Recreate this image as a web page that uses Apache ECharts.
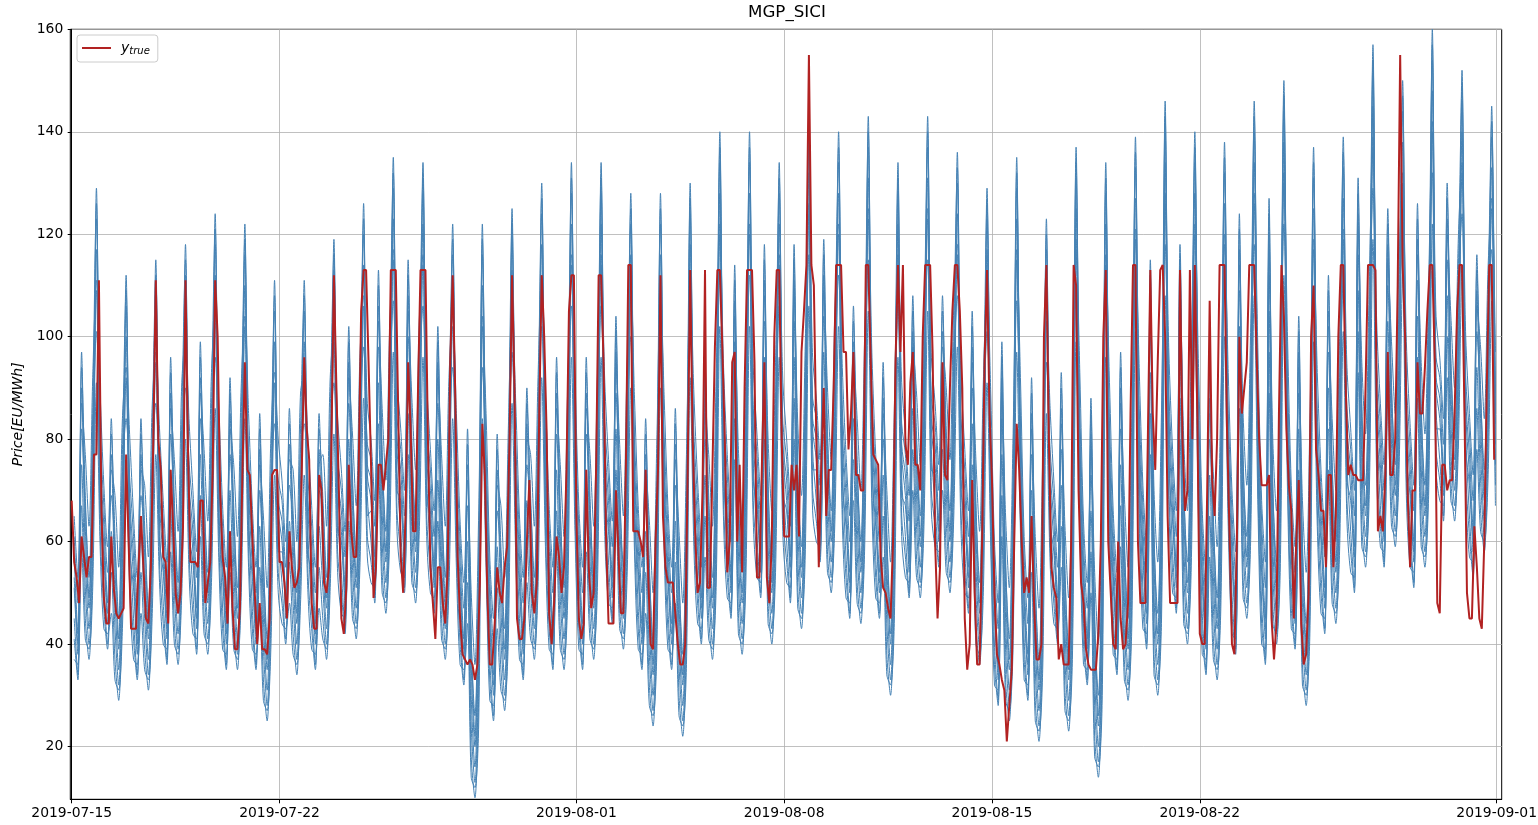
<!DOCTYPE html>
<html>
<head>
<meta charset="utf-8">
<script src="https://cdn.jsdelivr.net/npm/echarts@6.0.0/dist/echarts.min.js"></script>
<style>html,body{margin:0;padding:0;background:#fff}#c{width:1538px;height:825px}</style>
</head>
<body>
<div id="c"></div>
<script>
// x axis: days since 2019-07-15 00:00
const xTickDays = [0, 7, 17, 24, 31, 38, 48];
const xTickLabels = ['2019-07-15', '2019-07-22', '2019-08-01', '2019-08-08', '2019-08-15', '2019-08-22', '2019-09-01'];
const yTicks = [20, 40, 60, 80, 100, 120, 140, 160];

// y_true: one row per day, values at hours 0,2,4,...,22
const redStartHour = 0, redStepHour = 2;
const yTrue = [
[68,56,53,48,61,57,53,57,57,77,77,111],
[67,49,44,44,61,51,46,45,46,47,77,60],
[43,43,43,55,65,55,45,44,55,80,111,80],
[74,57,56,44,74,63,50,46,50,63,111,78],
[56,56,56,55,68,68,48,52,56,74,111,100],
[70,57,53,44,62,47,39,39,47,73,95,74],
[73,61,50,40,48,39,39,38,45,73,74,74],
[56,56,52,45,62,55,51,52,55,74,96,82],
[76,48,43,43,73,70,52,50,55,80,112,90],
[70,45,42,51,75,62,57,57,74,105,113,113],
[95,75,49,55,75,75,70,75,80,113,113,113],
[85,57,50,66,95,82,62,62,90,113,113,113],
[80,55,48,41,55,55,48,44,55,95,112,90],
[57,45,38,37,36,37,36,33,36,52,83,73],
[50,36,36,44,55,50,48,55,59,80,112,90],
[45,41,41,45,60,72,50,46,52,85,112,100],
[81,46,40,48,61,57,50,55,74,105,112,112],
[65,45,41,44,74,55,47,50,75,112,112,95],
[61,44,44,44,70,58,46,46,74,114,114,62],
[62,62,60,57,74,54,40,39,60,74,112,65],
[55,52,52,52,46,40,36,36,40,74,113,80],
[62,50,52,70,113,51,51,74,98,113,113,98],
[80,54,60,95,97,60,75,54,90,113,113,113],
[95,53,53,75,95,53,48,60,100,113,113,80],
[61,61,61,75,70,75,61,97,105,114,155,114],
[110,80,55,75,90,65,74,74,90,114,114,114],
[97,97,78,85,97,73,73,70,70,114,114,95],
[77,76,75,57,51,50,47,45,60,95,114,97],
[114,79,75,91,97,75,75,70,100,114,114,114],
[97,60,45,55,95,73,72,90,105,114,114,105],
[90,45,35,40,72,50,36,36,60,95,113,85],
[72,50,38,36,33,31,21,28,35,60,83,74],
[60,50,53,50,65,48,37,37,40,100,114,80],
[55,51,49,37,40,36,36,36,60,114,110,70],
[52,48,39,36,35,35,35,42,60,100,113,60],
[50,40,39,60,45,39,40,48,85,114,114,60],
[48,48,48,80,113,85,74,95,113,114,100,65],
[48,48,48,48,113,80,66,70,113,80,114,85],
[42,40,40,70,107,72,65,80,114,114,114,82],
[62,40,38,60,100,85,90,95,114,114,114,96],
[80,71,71,71,73,45,37,44,85,114,104,82],
[71,66,45,60,72,44,36,38,50,100,110,78],
[73,66,66,55,73,73,55,65,100,114,114,90],
[73,75,73,73,72,72,72,90,114,114,114,113],
[62,65,62,73,97,73,73,80,110,155,114,100],
[70,55,70,70,95,85,85,94,105,114,114,95],
[48,46,75,75,70,72,72,85,105,114,114,85],
[50,45,45,63,55,45,43,60,90,114,114,76]
];

// forecast samples: one row per day, values at hours 2,5,8,11,14,17,20,23
const blueStartHour = 2, blueStepHour = 3;
const predA = [
[57,42,97,63,47,75,123,77],[63,48,84,55,39,67,106,68],[57,42,84,57,41,69,109,70],[60,45,96,62,46,74,112,71],
[62,47,99,64,48,76,118,74],[59,44,92,61,45,73,116,73],[59,44,85,51,35,63,105,68],[64,49,86,60,44,72,105,68],
[59,44,85,63,47,75,113,72],[66,51,102,67,51,79,120,75],[72,57,113,72,56,84,129,80],[74,59,115,74,58,86,128,79],
[70,55,102,63,47,75,116,73],[56,41,82,36,20,48,116,73],[49,34,81,53,37,65,119,75],[57,42,90,63,47,75,124,77],
[59,44,96,61,45,73,128,79],[59,44,96,63,47,75,128,79],[68,53,104,65,49,77,122,76],[59,44,84,50,34,62,122,76],
[59,44,86,48,32,60,124,77],[64,49,95,63,47,75,134,82],[69,54,114,64,48,76,134,82],[73,58,118,66,50,78,128,79],
[72,57,118,69,53,81,138,84],[80,65,119,76,60,88,134,82],[69,54,106,70,54,82,137,84],[69,54,95,56,40,68,128,79],
[73,58,108,75,59,87,137,84],[79,64,108,76,60,88,130,80],[70,55,105,62,46,74,123,77],[52,37,99,51,35,63,129,80],
[53,38,92,47,31,59,117,74],[64,49,93,49,33,61,131,81],[56,41,88,40,24,52,128,79],[58,43,97,55,39,67,133,82],
[63,48,115,56,40,68,140,85],[70,55,118,66,50,78,134,82],[58,43,95,59,43,71,132,81],[62,47,124,71,55,83,140,85],
[60,45,127,66,50,78,144,87],[63,48,104,54,38,66,131,81],[66,51,112,70,54,82,133,82],[74,59,131,81,65,93,151,91],
[79,64,125,85,69,97,144,87],[75,60,126,81,65,93,154,92],[88,73,130,90,74,102,146,88],[77,62,116,84,68,96,139,85]
];
const predB = [
[45,34,75,51,40,63,129,71],[51,40,62,43,32,55,112,62],[45,34,62,45,34,57,115,64],[48,37,74,50,39,62,118,65],
[50,39,77,52,41,64,124,68],[47,36,70,49,38,61,122,67],[47,36,63,39,28,51,111,62],[52,41,64,48,37,60,111,62],
[47,36,63,51,40,63,119,66],[54,43,80,55,44,67,126,69],[60,49,91,60,49,72,135,74],[62,51,93,62,51,74,134,73],
[58,47,80,51,40,63,122,67],[44,33,60,24,13,36,122,67],[37,26,59,41,30,53,125,69],[45,34,68,51,40,63,130,71],
[47,36,74,49,38,61,134,73],[47,36,74,51,40,63,134,73],[56,45,82,53,42,65,128,70],[47,36,62,38,27,50,128,70],
[47,36,64,36,25,48,130,71],[52,41,73,51,40,63,140,76],[57,46,92,52,41,64,140,76],[61,50,96,54,43,66,134,73],
[60,49,96,57,46,69,144,78],[68,57,97,64,53,76,140,76],[57,46,84,58,47,70,143,78],[57,46,73,44,33,56,134,73],
[61,50,86,63,52,75,143,78],[67,56,86,64,53,76,136,74],[58,47,83,50,39,62,129,71],[40,29,77,39,28,51,135,74],
[41,30,70,35,24,47,123,68],[52,41,71,37,26,49,137,75],[44,33,66,28,17,40,134,73],[46,35,75,43,32,55,139,76],
[51,40,93,44,33,56,146,79],[58,47,96,54,43,66,140,76],[46,35,73,47,36,59,138,75],[50,39,102,59,48,71,146,79],
[48,37,105,54,43,66,150,81],[51,40,82,42,31,54,137,75],[54,43,90,58,47,70,139,76],[62,51,109,69,58,81,157,85],
[67,56,103,73,62,85,150,81],[63,52,104,69,58,81,160,86],[76,65,108,78,67,90,152,82],[65,54,94,72,61,84,145,79]
];
const predC = [
[51,38,90,57,43,69,109,67],[57,44,77,49,35,61,92,58],[51,38,77,51,37,63,95,60],[54,41,89,56,42,68,98,61],
[56,43,92,58,44,70,104,64],[53,40,85,55,41,67,102,63],[53,40,78,45,31,57,91,58],[58,45,79,54,40,66,91,58],
[53,40,78,57,43,69,99,62],[60,47,95,61,47,73,106,65],[66,53,106,66,52,78,115,70],[68,55,108,68,54,80,114,69],
[64,51,95,57,43,69,102,63],[50,37,75,30,16,42,102,63],[43,30,74,47,33,59,105,65],[51,38,83,57,43,69,110,67],
[53,40,89,55,41,67,114,69],[53,40,89,57,43,69,114,69],[62,49,97,59,45,71,108,66],[53,40,77,44,30,56,108,66],
[53,40,79,42,28,54,110,67],[58,45,88,57,43,69,120,72],[63,50,107,58,44,70,120,72],[67,54,111,60,46,72,114,69],
[66,53,111,63,49,75,124,74],[74,61,112,70,56,82,120,72],[63,50,99,64,50,76,123,74],[63,50,88,50,36,62,114,69],
[67,54,101,69,55,81,123,74],[73,60,101,70,56,82,116,70],[64,51,98,56,42,68,109,67],[46,33,92,45,31,57,115,70],
[47,34,85,41,27,53,103,64],[58,45,86,43,29,55,117,71],[50,37,81,34,20,46,114,69],[52,39,90,49,35,61,119,72],
[57,44,108,50,36,62,126,75],[64,51,111,60,46,72,120,72],[52,39,88,53,39,65,118,71],[56,43,117,65,51,77,126,75],
[54,41,120,60,46,72,130,77],[57,44,97,48,34,60,117,71],[60,47,105,64,50,76,119,72],[68,55,124,75,61,87,137,81],
[73,60,118,79,65,91,130,77],[69,56,119,75,61,87,140,82],[82,69,123,84,70,96,132,78],[71,58,109,78,64,90,125,75]
];
const predD = [
[41,33,67,45,37,57,117,63],[47,39,54,37,29,49,100,54],[41,33,54,39,31,51,103,56],[44,36,66,44,36,56,106,57],
[46,38,69,46,38,58,112,60],[43,35,62,43,35,55,110,59],[43,35,55,33,25,45,99,54],[48,40,56,42,34,54,99,54],
[43,35,55,45,37,57,107,58],[50,42,72,49,41,61,114,61],[56,48,83,54,46,66,123,66],[58,50,85,56,48,68,122,65],
[54,46,72,45,37,57,110,59],[40,32,52,18,10,30,110,59],[33,25,51,35,27,47,113,61],[41,33,60,45,37,57,118,63],
[43,35,66,43,35,55,122,65],[43,35,66,45,37,57,122,65],[52,44,74,47,39,59,116,62],[43,35,54,32,24,44,116,62],
[43,35,56,30,22,42,118,63],[48,40,65,45,37,57,128,68],[53,45,84,46,38,58,128,68],[57,49,88,48,40,60,122,65],
[56,48,88,51,43,63,132,70],[64,56,89,58,50,70,128,68],[53,45,76,52,44,64,131,70],[53,45,65,38,30,50,122,65],
[57,49,78,57,49,69,131,70],[63,55,78,58,50,70,124,66],[54,46,75,44,36,56,117,63],[36,28,69,33,25,45,123,66],
[37,29,62,29,21,41,111,60],[48,40,63,31,23,43,125,67],[40,32,58,22,14,34,122,65],[42,34,67,37,29,49,127,68],
[47,39,85,38,30,50,134,71],[54,46,88,48,40,60,128,68],[42,34,65,41,33,53,126,67],[46,38,94,53,45,65,134,71],
[44,36,97,48,40,60,138,73],[47,39,74,36,28,48,125,67],[50,42,82,52,44,64,127,68],[58,50,101,63,55,75,145,77],
[63,55,95,67,59,79,138,73],[59,51,96,63,55,75,148,78],[72,64,100,72,64,84,140,74],[61,53,86,66,58,78,133,71]
];
const predE = [
[61,48,82,67,53,81,101,81],[67,54,69,59,45,73,84,72],[61,48,69,61,47,75,87,74],[64,51,81,66,52,80,90,75],
[66,53,84,68,54,82,96,78],[63,50,77,65,51,79,94,77],[63,50,70,55,41,69,83,72],[68,55,71,64,50,78,83,72],
[63,50,70,67,53,81,91,76],[70,57,87,71,57,85,98,79],[76,63,98,76,62,90,107,84],[78,65,100,78,64,92,106,83],
[74,61,87,67,53,81,94,77],[60,47,67,40,26,54,94,77],[53,40,66,57,43,71,97,79],[61,48,75,67,53,81,102,81],
[63,50,81,65,51,79,106,83],[63,50,81,67,53,81,106,83],[72,59,89,69,55,83,100,80],[63,50,69,54,40,68,100,80],
[63,50,71,52,38,66,102,81],[68,55,80,67,53,81,112,86],[73,60,99,68,54,82,112,86],[77,64,103,70,56,84,106,83],
[76,63,103,73,59,87,116,88],[84,71,104,80,66,94,112,86],[73,60,91,74,60,88,115,88],[73,60,80,60,46,74,106,83],
[77,64,93,79,65,93,115,88],[83,70,93,80,66,94,108,84],[74,61,90,66,52,80,101,81],[56,43,84,55,41,69,107,84],
[57,44,77,51,37,65,95,78],[68,55,78,53,39,67,109,85],[60,47,73,44,30,58,106,83],[62,49,82,59,45,73,111,86],
[67,54,100,60,46,74,118,89],[74,61,103,70,56,84,112,86],[62,49,80,63,49,77,110,85],[66,53,109,75,61,89,118,89],
[64,51,112,70,56,84,122,91],[67,54,89,58,44,72,109,85],[70,57,97,74,60,88,111,86],[78,65,116,85,71,99,129,95],
[83,70,110,89,75,103,122,91],[79,66,111,85,71,99,132,96],[92,79,115,94,80,108,124,92],[81,68,101,88,74,102,117,89]
];
const predF = [
[65,53,87,77,63,92,111,89],[71,59,74,69,55,84,94,80],[65,53,74,71,57,86,97,82],[68,56,86,76,62,91,100,83],
[70,58,89,78,64,93,106,86],[67,55,82,75,61,90,104,85],[67,55,75,65,51,80,93,80],[72,60,76,74,60,89,93,80],
[67,55,75,77,63,92,101,84],[74,62,92,81,67,96,108,87],[80,68,103,86,72,101,117,92],[82,70,105,88,74,103,116,91],
[78,66,92,77,63,92,104,85],[64,52,72,50,36,65,104,85],[57,45,71,67,53,82,107,87],[65,53,80,77,63,92,112,89],
[67,55,86,75,61,90,116,91],[67,55,86,77,63,92,116,91],[76,64,94,79,65,94,110,88],[67,55,74,64,50,79,110,88],
[67,55,76,62,48,77,112,89],[72,60,85,77,63,92,122,94],[77,65,104,78,64,93,122,94],[81,69,108,80,66,95,116,91],
[80,68,108,83,69,98,126,96],[88,76,109,90,76,105,122,94],[77,65,96,84,70,99,125,96],[77,65,85,70,56,85,116,91],
[81,69,98,89,75,104,125,96],[87,75,98,90,76,105,118,92],[78,66,95,76,62,91,111,89],[60,48,89,65,51,80,117,92],
[61,49,82,61,47,76,105,86],[72,60,83,63,49,78,119,93],[64,52,78,54,40,69,116,91],[66,54,87,69,55,84,121,94],
[71,59,105,70,56,85,128,97],[78,66,108,80,66,95,122,94],[66,54,85,73,59,88,120,93],[70,58,114,85,71,100,128,97],
[68,56,117,80,66,95,132,99],[71,59,94,68,54,83,119,93],[74,62,102,84,70,99,121,94],[82,70,121,95,81,110,139,103],
[87,75,115,99,85,114,132,99],[83,71,116,95,81,110,142,104],[96,84,120,104,90,119,134,100],[85,73,106,98,84,113,127,97]
];
const predG = [
[37,36,59,41,39,51,91,59],[43,42,46,33,31,43,74,50],[37,36,46,35,33,45,77,52],[40,39,58,40,38,50,80,53],
[42,41,61,42,40,52,86,56],[39,38,54,39,37,49,84,55],[39,38,47,29,27,39,73,50],[44,43,48,38,36,48,73,50],
[39,38,47,41,39,51,81,54],[46,45,64,45,43,55,88,57],[52,51,75,50,48,60,97,62],[54,53,77,52,50,62,96,61],
[50,49,64,41,39,51,84,55],[36,35,44,14,12,24,84,55],[29,28,43,31,29,41,87,57],[37,36,52,41,39,51,92,59],
[39,38,58,39,37,49,96,61],[39,38,58,41,39,51,96,61],[48,47,66,43,41,53,90,58],[39,38,46,28,26,38,90,58],
[39,38,48,26,24,36,92,59],[44,43,57,41,39,51,102,64],[49,48,76,42,40,52,102,64],[53,52,80,44,42,54,96,61],
[52,51,80,47,45,57,106,66],[60,59,81,54,52,64,102,64],[49,48,68,48,46,58,105,66],[49,48,57,34,32,44,96,61],
[53,52,70,53,51,63,105,66],[59,58,70,54,52,64,98,62],[50,49,67,40,38,50,91,59],[32,31,61,29,27,39,97,62],
[33,32,54,25,23,35,85,56],[44,43,55,27,25,37,99,63],[36,35,50,18,16,28,96,61],[38,37,59,33,31,43,101,64],
[43,42,77,34,32,44,108,67],[50,49,80,44,42,54,102,64],[38,37,57,37,35,47,100,63],[42,41,86,49,47,59,108,67],
[40,39,89,44,42,54,112,69],[43,42,66,32,30,42,99,63],[46,45,74,48,46,58,101,64],[54,53,93,59,57,69,119,73],
[59,58,87,63,61,73,112,69],[55,54,88,59,57,69,122,74],[68,67,92,68,66,78,114,70],[57,56,78,62,60,72,107,67]
];
const predH = [
[53,40,94,69,49,85,126,75],[59,46,81,61,41,77,109,66],[53,40,81,63,43,79,112,68],[56,43,93,68,48,84,115,69],
[58,45,96,70,50,86,121,72],[55,42,89,67,47,83,119,71],[55,42,82,57,37,73,108,66],[60,47,83,66,46,82,108,66],
[55,42,82,69,49,85,116,70],[62,49,99,73,53,89,123,73],[68,55,110,78,58,94,132,78],[70,57,112,80,60,96,131,77],
[66,53,99,69,49,85,119,71],[52,39,79,42,22,58,119,71],[45,32,78,59,39,75,122,73],[53,40,87,69,49,85,127,75],
[55,42,93,67,47,83,131,77],[55,42,93,69,49,85,131,77],[64,51,101,71,51,87,125,74],[55,42,81,56,36,72,125,74],
[55,42,83,54,34,70,127,75],[60,47,92,69,49,85,137,80],[65,52,111,70,50,86,137,80],[69,56,115,72,52,88,131,77],
[68,55,115,75,55,91,141,82],[76,63,116,82,62,98,137,80],[65,52,103,76,56,92,140,82],[65,52,92,62,42,78,131,77],
[69,56,105,81,61,97,140,82],[75,62,105,82,62,98,133,78],[66,53,102,68,48,84,126,75],[48,35,96,57,37,73,132,78],
[49,36,89,53,33,69,120,72],[60,47,90,55,35,71,134,79],[52,39,85,46,26,62,131,77],[54,41,94,61,41,77,136,80],
[59,46,112,62,42,78,143,83],[66,53,115,72,52,88,137,80],[54,41,92,65,45,81,135,79],[58,45,121,77,57,93,143,83],
[56,43,124,72,52,88,147,85],[59,46,101,60,40,76,134,79],[62,49,109,76,56,92,136,80],[70,57,128,87,67,103,154,89],
[75,62,122,91,71,107,147,85],[71,58,123,87,67,103,157,90],[84,71,127,96,76,112,149,86],[73,60,113,90,70,106,142,83]
];

function toPoints(rows, startHour, stepHour) {
  const out = [];
  let i = 0;
  rows.forEach(function (r) { r.forEach(function (v) { out.push([(startHour + i * stepHour) / 24, v]); i++; }); });
  return out;
}

const blueSets = [predA, predB, predC, predD, predE, predF, predG, predH];
const series = blueSets.map(function (rows, k) {
  return {
    name: 'pred' + k, type: 'line', data: toPoints(rows, blueStartHour, blueStepHour),
    symbol: 'none', showSymbol: false, silent: true, z: 2, smooth: 0.3,
    lineStyle: { color: '#4682b4', width: 1 }, itemStyle: { color: '#4682b4' }
  };
});
series.push({
  name: 'y_true', type: 'line', data: toPoints(yTrue, redStartHour, redStepHour),
  symbol: 'none', showSymbol: false, silent: true, z: 3,
  lineStyle: { color: '#b22222', width: 2 }, itemStyle: { color: '#b22222' }
});

const chart = echarts.init(document.getElementById('c'), null, { renderer: 'canvas' });
chart.setOption({
  animation: false,
  backgroundColor: '#fff',
  title: {
    text: 'MGP_SICI', left: 748, top: 4, padding: 0,
    textStyle: { fontFamily: 'DejaVu Sans', fontSize: 16.7, fontWeight: 'normal', color: '#000' }
  },
  legend: {
    data: [{ name: 'y_true', icon: 'rect' }], left: 77, top: 35, padding: [6, 8, 6, 5],
    itemWidth: 29, itemHeight: 2, itemGap: 5,
    backgroundColor: 'rgba(255,255,255,0.8)', borderColor: '#cccccc', borderWidth: 1, borderRadius: 3,
    formatter: function () { return '{a|y}{b|true}'; },
    textStyle: {
      rich: {
        a: { fontFamily: 'DejaVu Sans', fontStyle: 'italic', fontSize: 14, lineHeight: 18, color: '#000', padding: [0, 0, 0, 5] },
        b: { fontFamily: 'DejaVu Sans', fontStyle: 'italic', fontSize: 10, color: '#000', verticalAlign: 'bottom', padding: [0, 0, 1, 0] }
      }
    }
  },
  grid: { left: 70.3, right: 36.3, top: 29.3, bottom: 25.7, show: true, borderColor: '#000', borderWidth: 1, containLabel: false, outerBoundsMode: 'none' },
  xAxis: {
    type: 'value', min: -0.047, max: 48.17,
    axisLine: { show: true, lineStyle: { color: '#000', width: 1 } },
    axisTick: { show: true, customValues: xTickDays, length: 4, lineStyle: { color: '#000', width: 1 } },
    axisLabel: {
      customValues: xTickDays, margin: 7, color: '#000', fontFamily: 'DejaVu Sans', fontSize: 13.9,
      formatter: function (v) {
        for (let i = 0; i < xTickDays.length; i++) { if (Math.abs(xTickDays[i] - v) < 1e-6) return xTickLabels[i]; }
        return '';
      }
    },
    splitLine: { show: true, lineStyle: { color: '#b0b0b0', width: 0.8 } }
  },
  yAxis: {
    type: 'value', min: 9.7, max: 160,
    name: 'Price[EU/MWh]', nameLocation: 'middle', nameGap: 45, nameRotate: 90,
    nameTextStyle: { fontFamily: 'DejaVu Sans', fontStyle: 'italic', fontSize: 14, color: '#000' },
    axisLine: { show: true, lineStyle: { color: '#000', width: 1 } },
    axisTick: { show: true, customValues: yTicks, length: 4, lineStyle: { color: '#000', width: 1 } },
    axisLabel: { customValues: yTicks, margin: 7, color: '#000', fontFamily: 'DejaVu Sans', fontSize: 13.9 },
    splitLine: { show: true, lineStyle: { color: '#b0b0b0', width: 0.8 } }
  },
  series: series
});
</script>
</body>
</html>
